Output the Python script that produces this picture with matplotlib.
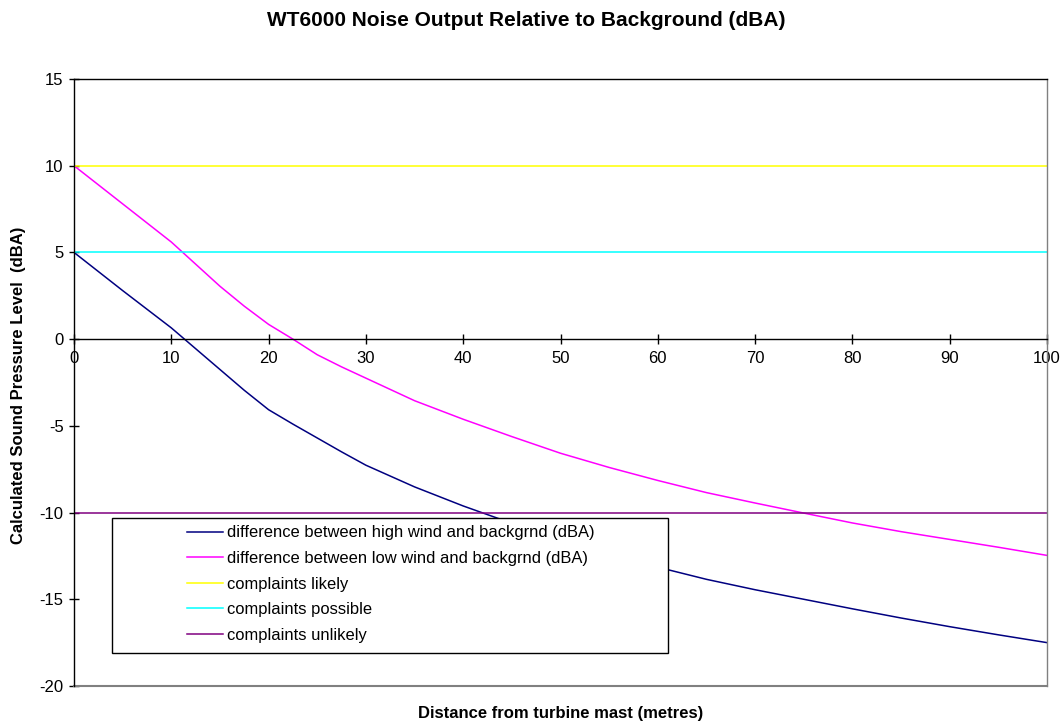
import matplotlib
matplotlib.use("Agg")
import matplotlib.pyplot as plt
from matplotlib.patches import Rectangle

plt.rcParams['font.family'] = ['Liberation Sans', 'DejaVu Sans']
plt.rcParams['axes.unicode_minus'] = False

# distance from mast (m) and level differences (dBA)
distance = [0, 5, 10, 15, 17.5, 20, 22.5, 25, 27.5, 30, 35, 40, 45, 50, 55,
            60, 65, 70, 75, 80, 85, 90, 95, 100]
high_wind = [5.0, 2.8, 0.65, -1.75, -2.95, -4.07, -4.9, -5.7, -6.5, -7.27,
             -8.52, -9.62, -10.62, -11.55, -12.4, -13.15, -13.85, -14.45,
             -15.0, -15.55, -16.08, -16.58, -17.05, -17.5]
low_wind = [10.0, 7.8, 5.6, 3.05, 1.9, 0.85, 0.0, -0.9, -1.6, -2.25, -3.55,
            -4.62, -5.62, -6.58, -7.4, -8.15, -8.85, -9.45, -10.03, -10.6,
            -11.1, -11.55, -12.0, -12.47]

# complaint thresholds (dBA)
likely_level = 10
possible_level = 5
unlikely_level = -10
x_range = [0, 100]

fig = plt.figure(figsize=(10.63, 7.24), dpi=100)
ax = fig.add_axes([0.0696, 0.0525, 0.9154, 0.8384])

ax.plot(distance, high_wind, color='#000080', lw=1.1,
        label='difference between high wind and backgrnd (dBA)')
ax.plot(distance, low_wind, color='#FF00FF', lw=1.1,
        label='difference between low wind and backgrnd (dBA)')
ax.plot(x_range, [likely_level] * 2, color='#FFFF00', lw=1.1,
        label='complaints likely')
ax.plot(x_range, [possible_level] * 2, color='#00FFFF', lw=1.1,
        label='complaints possible')
ax.plot(x_range, [unlikely_level] * 2, color='#800080', lw=1.1,
        label='complaints unlikely')

ax.set_xlim(0, 100)
ax.set_ylim(-20, 15)
ax.set_xticks(range(0, 101, 10))
ax.set_yticks(range(-20, 16, 5))

# x axis crosses at zero, plot border drawn in grey
ax.spines['bottom'].set_position(('data', 0))
ax.spines['bottom'].set_color('black')
ax.spines['left'].set_color('black')
ax.spines['top'].set_color('black')
ax.spines['right'].set_color('#808080')
for s in ax.spines.values():
    s.set_linewidth(1.0)
ax.axhline(-20, color='#808080', lw=1.5, clip_on=False)

ax.tick_params(axis='both', direction='inout', length=7, width=1,
               labelsize=12, colors='black')
ax.tick_params(axis='x', pad=5)
ax.tick_params(axis='y', pad=4)

fig.text(0.4955, 0.972, 'WT6000 Noise Output Relative to Background (dBA)',
         ha='center', va='center', fontsize=15, fontweight='bold')
fig.text(0.017, 0.468, 'Calculated Sound Pressure Level  (dBA)',
         ha='center', va='center', rotation=90, fontsize=12,
         fontweight='bold')
fig.text(0.527, 0.014, 'Distance from turbine mast (metres)',
         ha='center', va='center', fontsize=12, fontweight='bold')

# legend box
ax.add_patch(Rectangle((0.039, 0.0544), 0.5715, 0.2224, transform=ax.transAxes,
                       fill=True, facecolor='white', edgecolor='black',
                       lw=1.0, zorder=4))
leg = ax.legend(loc='upper left', bbox_to_anchor=(0.116, 0.2645),
                frameon=False, fontsize=11.9, handlelength=2.2,
                handletextpad=0.2, labelspacing=0.64, borderpad=0,
                borderaxespad=0)
leg.set_zorder(5)

fig.savefig('out.png', dpi=100)
